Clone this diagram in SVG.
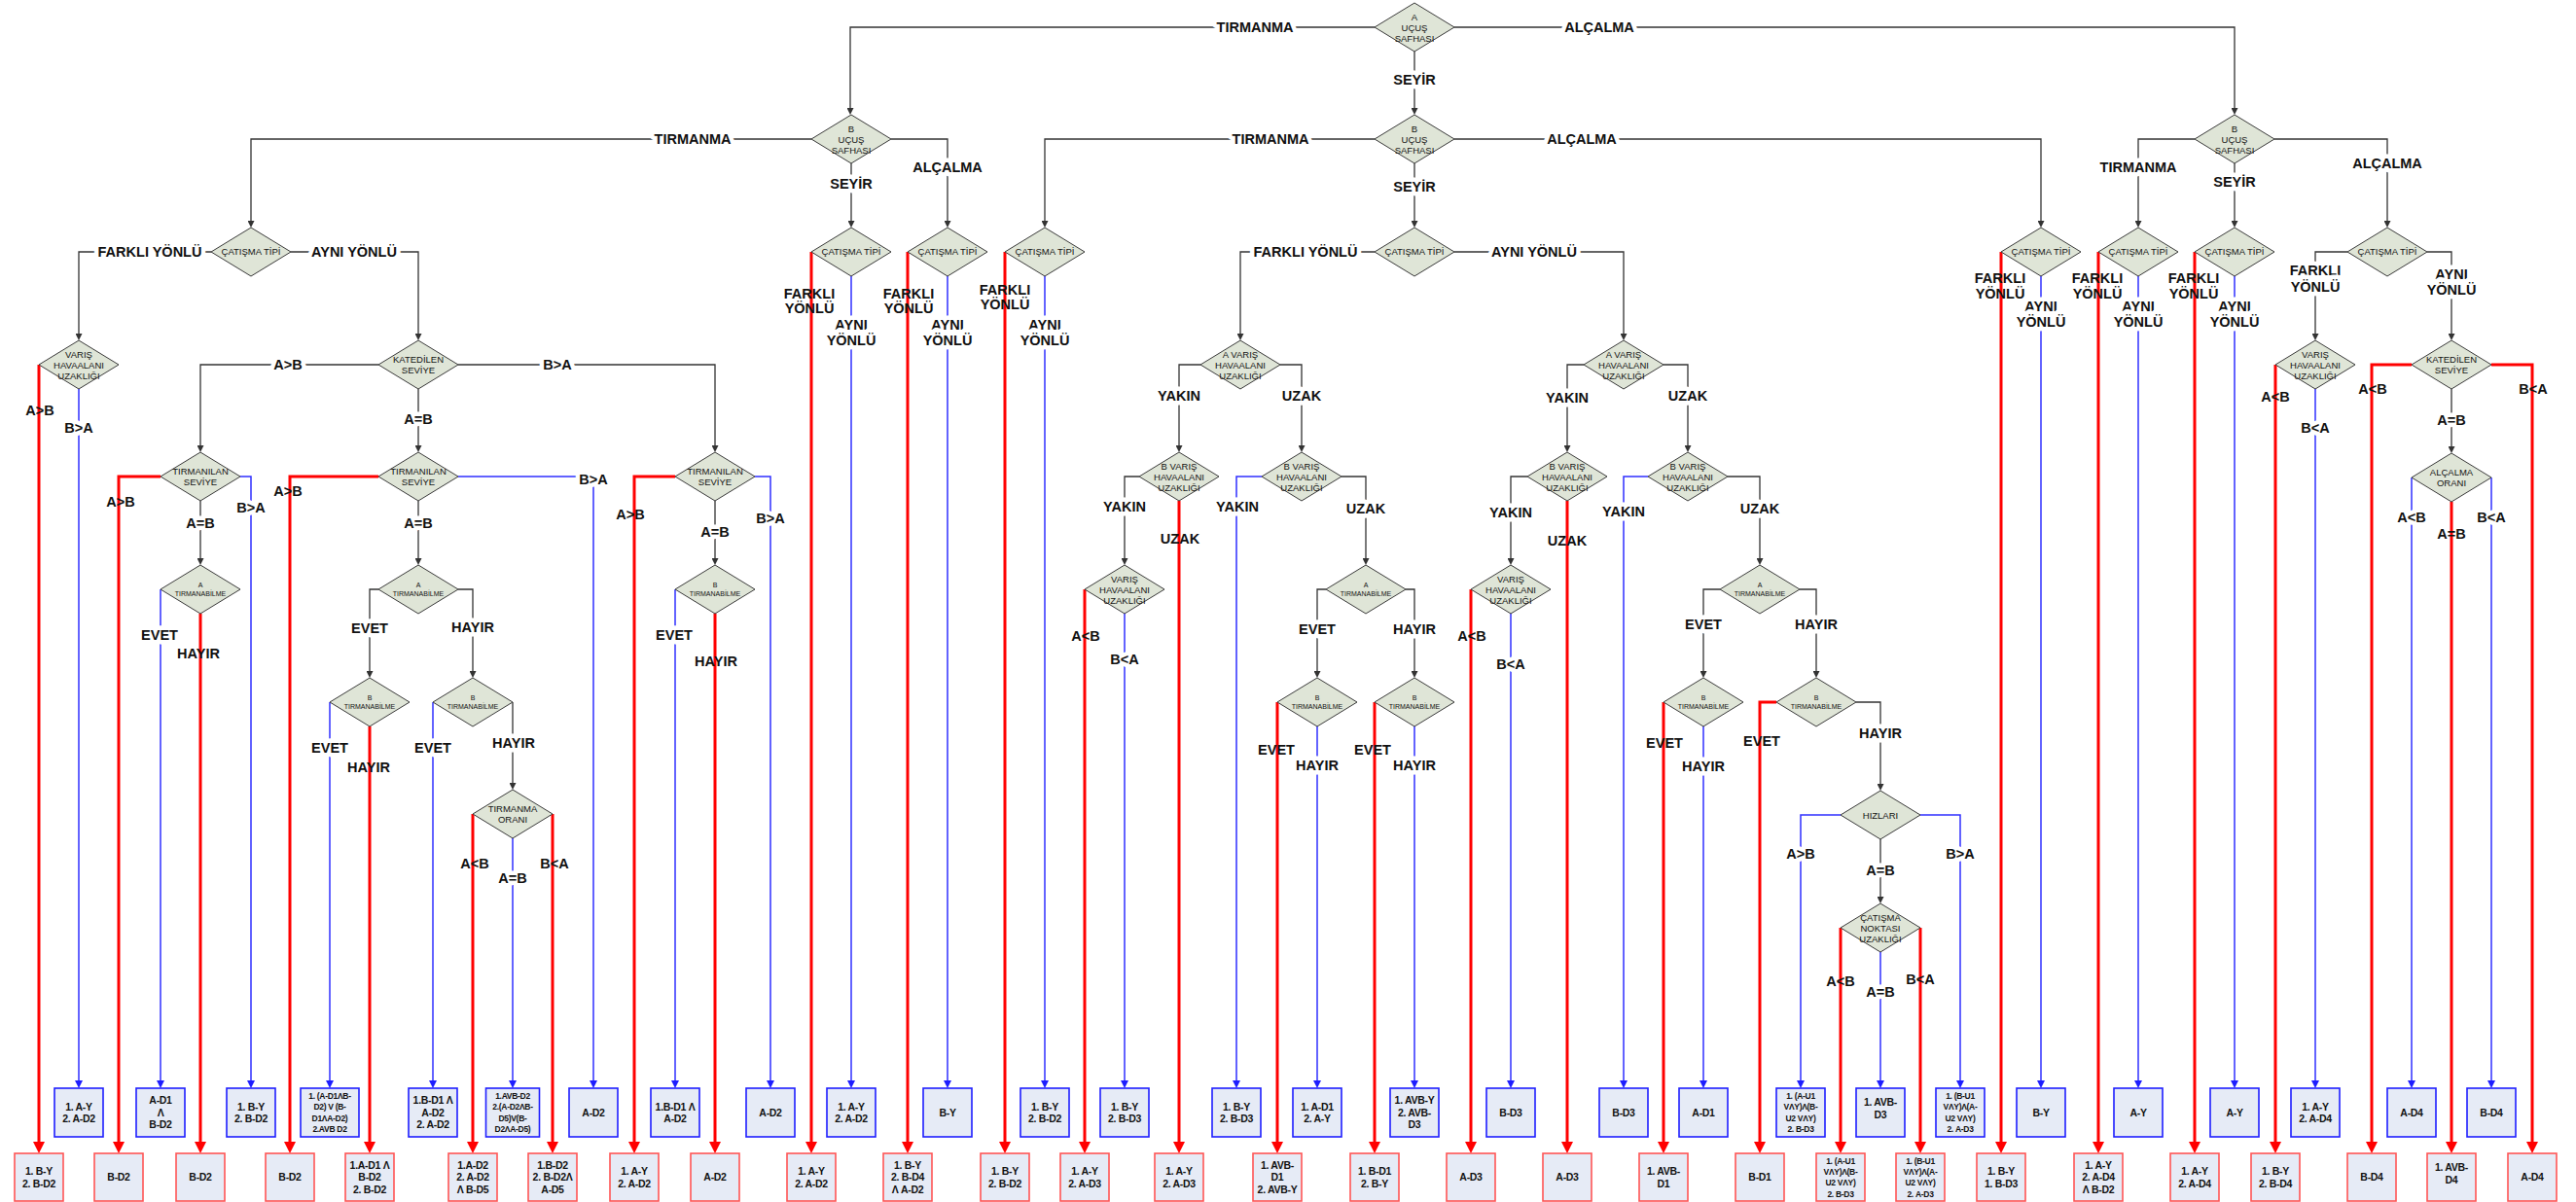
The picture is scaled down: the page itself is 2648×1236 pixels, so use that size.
<svg xmlns="http://www.w3.org/2000/svg" width="2648" height="1236" viewBox="0 0 2648 1236">
<defs>
<style>
.k{fill:none;stroke:#333;stroke-width:1.3;marker-end:url(#mk)}
.b{fill:none;stroke:#2f2fff;stroke-width:1.5;marker-end:url(#mb)}
.r{fill:none;stroke:#ff0000;stroke-width:3;marker-end:url(#mr)}
.d{fill:#dfe5d7;stroke:#3a3a3a;stroke-width:1}
.bb{fill:#e6ebf6;stroke:#1e1eff;stroke-width:1.6}
.rb{fill:#e6ebf6;stroke:#ff5555;stroke-width:1.6}
text{font-family:"Liberation Sans",Arial,sans-serif;text-anchor:middle;fill:#111}
.l{font-size:14.5px;font-weight:bold}
.h{stroke:#fff;stroke-width:9;stroke-linejoin:round;paint-order:stroke}
.t{font-size:9.5px}
.s{font-size:7px}
.x{font-size:10.5px;font-weight:bold;letter-spacing:-0.3px}
.y{font-size:8.5px;font-weight:bold;letter-spacing:-0.3px}
</style>
<path id="dm" d="M0,-25L41,0L0,25L-41,0Z"/>
<marker id="mk" markerUnits="userSpaceOnUse" markerWidth="7" markerHeight="7" refX="0" refY="3.5" orient="auto"><path d="M0,0L7,3.5L0,7Z" fill="#333"/></marker>
<marker id="mb" markerUnits="userSpaceOnUse" markerWidth="8" markerHeight="8" refX="0" refY="4" orient="auto"><path d="M0,0L8,4L0,8Z" fill="#1e1eff"/></marker>
<marker id="mr" markerUnits="userSpaceOnUse" markerWidth="12" markerHeight="12" refX="0" refY="6" orient="auto"><path d="M0,0L12,6L0,12Z" fill="#ff0000"/></marker>
</defs>
<rect width="2648" height="1236" fill="#fff"/>

<!-- connectors -->
<g id="connectors">
<!-- decision flow (black) -->
<path class="k" d="M1413,28H874V111"/>
<path class="k" d="M1495,28H2297V111"/>
<path class="k" d="M1454,53V111"/>
<path class="k" d="M834,143H258V227"/>
<path class="k" d="M875,168V227"/>
<path class="k" d="M916,143H974V227"/>
<path class="k" d="M1413,143H1074V227"/>
<path class="k" d="M1454,168V227"/>
<path class="k" d="M1495,143H2098V227"/>
<path class="k" d="M2256,143H2198V227"/>
<path class="k" d="M2297,168V227"/>
<path class="k" d="M2338,143H2454V227"/>
<path class="k" d="M217,259H81V343"/>
<path class="k" d="M299,259H430V343"/>
<path class="k" d="M389,375H206V458"/>
<path class="k" d="M471,375H735V458"/>
<path class="k" d="M430,400V458"/>
<path class="k" d="M206,515V574"/>
<path class="k" d="M430,515V574"/>
<path class="k" d="M735,515V574"/>
<path class="k" d="M389,606H380V690"/>
<path class="k" d="M471,606H486V690"/>
<path class="k" d="M527,722V805"/>
<path class="k" d="M1413,259H1275V343"/>
<path class="k" d="M1495,259H1669V343"/>
<path class="k" d="M1234,375H1212V458"/>
<path class="k" d="M1316,375H1338V458"/>
<path class="k" d="M1171,490H1156V574"/>
<path class="k" d="M1379,490H1404V574"/>
<path class="k" d="M1363,606H1354V690"/>
<path class="k" d="M1445,606H1454V690"/>
<path class="k" d="M1628,375H1611V458"/>
<path class="k" d="M1710,375H1735V458"/>
<path class="k" d="M1570,490H1553V574"/>
<path class="k" d="M1776,490H1809V574"/>
<path class="k" d="M1768,606H1751V690"/>
<path class="k" d="M1850,606H1867V690"/>
<path class="k" d="M1908,722H1933V806"/>
<path class="k" d="M1933,863V922"/>
<path class="k" d="M2413,259H2380V343"/>
<path class="k" d="M2495,259H2520V343"/>
<path class="k" d="M2520,400V459"/>
<!-- outcomes, upper row (blue) -->
<path class="b" d="M81,400V1111"/>
<path class="b" d="M247,490H258V1111"/>
<path class="b" d="M165,606V1111"/>
<path class="b" d="M339,722V1111"/>
<path class="b" d="M445,722V1111"/>
<path class="b" d="M527,862V1111"/>
<path class="b" d="M471,490H610V1111"/>
<path class="b" d="M694,606V1111"/>
<path class="b" d="M776,490H792V1111"/>
<path class="b" d="M875,284V1111"/>
<path class="b" d="M974,284V1111"/>
<path class="b" d="M1074,284V1111"/>
<path class="b" d="M1156,631V1111"/>
<path class="b" d="M1297,490H1271V1111"/>
<path class="b" d="M1354,747V1111"/>
<path class="b" d="M1454,747V1111"/>
<path class="b" d="M1553,631V1111"/>
<path class="b" d="M1694,490H1669V1111"/>
<path class="b" d="M1751,747V1111"/>
<path class="b" d="M1892,838H1851V1111"/>
<path class="b" d="M1974,838H2015V1111"/>
<path class="b" d="M1933,979V1111"/>
<path class="b" d="M2098,284V1111"/>
<path class="b" d="M2198,284V1111"/>
<path class="b" d="M2297,284V1111"/>
<path class="b" d="M2380,400V1111"/>
<path class="b" d="M2479,491V1111"/>
<path class="b" d="M2561,491V1111"/>
<!-- outcomes, lower row (red) -->
<path class="r" d="M40,375V1174"/>
<path class="r" d="M165,490H122V1174"/>
<path class="r" d="M206,631V1174"/>
<path class="r" d="M389,490H298V1174"/>
<path class="r" d="M380,747V1174"/>
<path class="r" d="M486,837V1174"/>
<path class="r" d="M568,837V1174"/>
<path class="r" d="M694,490H652V1174"/>
<path class="r" d="M735,631V1174"/>
<path class="r" d="M834,259V1174"/>
<path class="r" d="M933,259V1174"/>
<path class="r" d="M1033,259V1174"/>
<path class="r" d="M1115,606V1174"/>
<path class="r" d="M1212,515V1174"/>
<path class="r" d="M1313,722V1174"/>
<path class="r" d="M1413,722V1174"/>
<path class="r" d="M1512,606V1174"/>
<path class="r" d="M1611,515V1174"/>
<path class="r" d="M1710,722V1174"/>
<path class="r" d="M1826,722H1809V1174"/>
<path class="r" d="M1892,954V1174"/>
<path class="r" d="M1974,954V1174"/>
<path class="r" d="M2057,259V1174"/>
<path class="r" d="M2157,259V1174"/>
<path class="r" d="M2256,259V1174"/>
<path class="r" d="M2339,375V1174"/>
<path class="r" d="M2479,375H2438V1174"/>
<path class="r" d="M2561,375H2603V1174"/>
<path class="r" d="M2520,516V1174"/>
</g>

<!-- branch labels -->
<g id="labels" class="l">
<text class="h" x="1290" y="33">TIRMANMA</text>
<text class="h" x="1644" y="33">ALÇALMA</text>
<text class="h" x="1454" y="87">SEYİR</text>
<text class="h" x="712" y="148">TIRMANMA</text>
<text class="h" x="875" y="194">SEYİR</text>
<text class="h" x="974" y="177">ALÇALMA</text>
<text class="h" x="1306" y="148">TIRMANMA</text>
<text class="h" x="1454" y="197">SEYİR</text>
<text class="h" x="1626" y="148">ALÇALMA</text>
<text class="h" x="2198" y="177">TIRMANMA</text>
<text class="h" x="2297" y="192">SEYİR</text>
<text class="h" x="2454" y="173">ALÇALMA</text>

<text class="h" x="154" y="264">FARKLI YÖNLÜ</text>
<text class="h" x="364" y="264">AYNI YÖNLÜ</text>
<text x="832" y="307">FARKLI</text><text x="832" y="322">YÖNLÜ</text>
<text class="h" x="875" y="339">AYNI</text><text class="h" x="875" y="355">YÖNLÜ</text>
<text x="934" y="307">FARKLI</text><text x="934" y="322">YÖNLÜ</text>
<text class="h" x="974" y="339">AYNI</text><text class="h" x="974" y="355">YÖNLÜ</text>
<text x="1033" y="303">FARKLI</text><text x="1033" y="318">YÖNLÜ</text>
<text class="h" x="1074" y="339">AYNI</text><text class="h" x="1074" y="355">YÖNLÜ</text>
<text class="h" x="1342" y="264">FARKLI YÖNLÜ</text>
<text class="h" x="1577" y="264">AYNI YÖNLÜ</text>
<text x="2056" y="291">FARKLI</text><text x="2056" y="307">YÖNLÜ</text>
<text class="h" x="2098" y="320">AYNI</text><text class="h" x="2098" y="336">YÖNLÜ</text>
<text x="2156" y="291">FARKLI</text><text x="2156" y="307">YÖNLÜ</text>
<text class="h" x="2198" y="320">AYNI</text><text class="h" x="2198" y="336">YÖNLÜ</text>
<text x="2255" y="291">FARKLI</text><text x="2255" y="307">YÖNLÜ</text>
<text class="h" x="2297" y="320">AYNI</text><text class="h" x="2297" y="336">YÖNLÜ</text>
<text class="h" x="2380" y="283">FARKLI</text><text class="h" x="2380" y="300">YÖNLÜ</text>
<text class="h" x="2520" y="287">AYNI</text><text class="h" x="2520" y="303">YÖNLÜ</text>

<text x="41" y="427">A&gt;B</text>
<text class="h" x="81" y="445">B&gt;A</text>
<text class="h" x="296" y="380">A&gt;B</text>
<text class="h" x="573" y="380">B&gt;A</text>
<text class="h" x="430" y="436">A=B</text>
<text x="124" y="521">A&gt;B</text>
<text class="h" x="258" y="527">B&gt;A</text>
<text class="h" x="206" y="543">A=B</text>
<text class="h" x="164" y="658">EVET</text>
<text x="204" y="677">HAYIR</text>
<text x="296" y="510">A&gt;B</text>
<text class="h" x="610" y="498">B&gt;A</text>
<text class="h" x="430" y="543">A=B</text>
<text class="h" x="380" y="651">EVET</text>
<text class="h" x="486" y="650">HAYIR</text>
<text class="h" x="339" y="774">EVET</text>
<text x="379" y="794">HAYIR</text>
<text class="h" x="445" y="774">EVET</text>
<text class="h" x="528" y="769">HAYIR</text>
<text x="488" y="893">A&lt;B</text>
<text class="h" x="527" y="908">A=B</text>
<text x="570" y="893">B&lt;A</text>
<text x="648" y="534">A&gt;B</text>
<text class="h" x="792" y="538">B&gt;A</text>
<text class="h" x="735" y="552">A=B</text>
<text class="h" x="693" y="658">EVET</text>
<text x="736" y="685">HAYIR</text>

<text class="h" x="1212" y="412">YAKIN</text>
<text class="h" x="1338" y="412">UZAK</text>
<text class="h" x="1156" y="526">YAKIN</text>
<text x="1213" y="559">UZAK</text>
<text x="1116" y="659">A&lt;B</text>
<text class="h" x="1156" y="683">B&lt;A</text>
<text class="h" x="1272" y="526">YAKIN</text>
<text class="h" x="1404" y="528">UZAK</text>
<text class="h" x="1354" y="652">EVET</text>
<text class="h" x="1454" y="652">HAYIR</text>
<text x="1312" y="776">EVET</text>
<text class="h" x="1354" y="792">HAYIR</text>
<text x="1411" y="776">EVET</text>
<text class="h" x="1454" y="792">HAYIR</text>
<text class="h" x="1611" y="414">YAKIN</text>
<text class="h" x="1735" y="412">UZAK</text>
<text class="h" x="1553" y="532">YAKIN</text>
<text x="1611" y="561">UZAK</text>
<text x="1513" y="659">A&lt;B</text>
<text class="h" x="1553" y="688">B&lt;A</text>
<text class="h" x="1669" y="531">YAKIN</text>
<text class="h" x="1809" y="528">UZAK</text>
<text class="h" x="1751" y="647">EVET</text>
<text class="h" x="1867" y="647">HAYIR</text>
<text x="1711" y="769">EVET</text>
<text class="h" x="1751" y="793">HAYIR</text>
<text x="1811" y="767">EVET</text>
<text class="h" x="1933" y="759">HAYIR</text>
<text class="h" x="1851" y="883">A&gt;B</text>
<text class="h" x="2015" y="883">B&gt;A</text>
<text class="h" x="1933" y="900">A=B</text>
<text x="1892" y="1014">A&lt;B</text>
<text class="h" x="1933" y="1025">A=B</text>
<text x="1974" y="1012">B&lt;A</text>

<text x="2339" y="413">A&lt;B</text>
<text class="h" x="2380" y="445">B&lt;A</text>
<text x="2439" y="405">A&lt;B</text>
<text x="2604" y="405">B&lt;A</text>
<text class="h" x="2520" y="437">A=B</text>
<text class="h" x="2479" y="537">A&lt;B</text>
<text x="2520" y="554">A=B</text>
<text class="h" x="2561" y="537">B&lt;A</text>
</g>

<!-- decision nodes -->
<g id="n-a-ucus"><use href="#dm" class="d" x="1454" y="28"/><text class="t"><tspan x="1454" y="20.5">A</tspan><tspan x="1454" y="31.5">UÇUŞ</tspan><tspan x="1454" y="42.5">SAFHASI</tspan></text></g>
<g id="n-b-ucus-1"><use href="#dm" class="d" x="875" y="143"/><text class="t"><tspan x="875" y="135.5">B</tspan><tspan x="875" y="146.5">UÇUŞ</tspan><tspan x="875" y="157.5">SAFHASI</tspan></text></g>
<g id="n-b-ucus-2"><use href="#dm" class="d" x="1454" y="143"/><text class="t"><tspan x="1454" y="135.5">B</tspan><tspan x="1454" y="146.5">UÇUŞ</tspan><tspan x="1454" y="157.5">SAFHASI</tspan></text></g>
<g id="n-b-ucus-3"><use href="#dm" class="d" x="2297" y="143"/><text class="t"><tspan x="2297" y="135.5">B</tspan><tspan x="2297" y="146.5">UÇUŞ</tspan><tspan x="2297" y="157.5">SAFHASI</tspan></text></g>

<g id="n-catisma-1"><use href="#dm" class="d" x="258" y="259"/><text class="t" x="258" y="261.5">ÇATIŞMA TİPİ</text></g>
<g id="n-catisma-2"><use href="#dm" class="d" x="875" y="259"/><text class="t" x="875" y="261.5">ÇATIŞMA TİPİ</text></g>
<g id="n-catisma-3"><use href="#dm" class="d" x="974" y="259"/><text class="t" x="974" y="261.5">ÇATIŞMA TİPİ</text></g>
<g id="n-catisma-4"><use href="#dm" class="d" x="1074" y="259"/><text class="t" x="1074" y="261.5">ÇATIŞMA TİPİ</text></g>
<g id="n-catisma-5"><use href="#dm" class="d" x="1454" y="259"/><text class="t" x="1454" y="261.5">ÇATIŞMA TİPİ</text></g>
<g id="n-catisma-6"><use href="#dm" class="d" x="2098" y="259"/><text class="t" x="2098" y="261.5">ÇATIŞMA TİPİ</text></g>
<g id="n-catisma-7"><use href="#dm" class="d" x="2198" y="259"/><text class="t" x="2198" y="261.5">ÇATIŞMA TİPİ</text></g>
<g id="n-catisma-8"><use href="#dm" class="d" x="2297" y="259"/><text class="t" x="2297" y="261.5">ÇATIŞMA TİPİ</text></g>
<g id="n-catisma-9"><use href="#dm" class="d" x="2454" y="259"/><text class="t" x="2454" y="261.5">ÇATIŞMA TİPİ</text></g>

<g id="n-varis-1"><use href="#dm" class="d" x="81" y="375"/><text class="t"><tspan x="81" y="367.5">VARIŞ</tspan><tspan x="81" y="378.5">HAVAALANI</tspan><tspan x="81" y="389.5">UZAKLIĞI</tspan></text></g>
<g id="n-katedilen-1"><use href="#dm" class="d" x="430" y="375"/><text class="t"><tspan x="430" y="373">KATEDİLEN</tspan><tspan x="430" y="384">SEVİYE</tspan></text></g>
<g id="n-tirmanilan-1"><use href="#dm" class="d" x="206" y="490"/><text class="t"><tspan x="206" y="488">TIRMANILAN</tspan><tspan x="206" y="499">SEVİYE</tspan></text></g>
<g id="n-tirmanilan-2"><use href="#dm" class="d" x="430" y="490"/><text class="t"><tspan x="430" y="488">TIRMANILAN</tspan><tspan x="430" y="499">SEVİYE</tspan></text></g>
<g id="n-tirmanilan-3"><use href="#dm" class="d" x="735" y="490"/><text class="t"><tspan x="735" y="488">TIRMANILAN</tspan><tspan x="735" y="499">SEVİYE</tspan></text></g>
<g id="n-a-tirman-1"><use href="#dm" class="d" x="206" y="606"/><text class="s"><tspan x="206" y="603.5">A</tspan><tspan x="206" y="612.5">TIRMANABİLME</tspan></text></g>
<g id="n-a-tirman-2"><use href="#dm" class="d" x="430" y="606"/><text class="s"><tspan x="430" y="603.5">A</tspan><tspan x="430" y="612.5">TIRMANABİLME</tspan></text></g>
<g id="n-b-tirman-1"><use href="#dm" class="d" x="380" y="722"/><text class="s"><tspan x="380" y="719.5">B</tspan><tspan x="380" y="728.5">TIRMANABİLME</tspan></text></g>
<g id="n-b-tirman-2"><use href="#dm" class="d" x="486" y="722"/><text class="s"><tspan x="486" y="719.5">B</tspan><tspan x="486" y="728.5">TIRMANABİLME</tspan></text></g>
<g id="n-b-tirman-3"><use href="#dm" class="d" x="735" y="606"/><text class="s"><tspan x="735" y="603.5">B</tspan><tspan x="735" y="612.5">TIRMANABİLME</tspan></text></g>
<g id="n-tirmanma-orani"><use href="#dm" class="d" x="527" y="837"/><text class="t"><tspan x="527" y="835">TIRMANMA</tspan><tspan x="527" y="846">ORANI</tspan></text></g>

<g id="n-a-varis-1"><use href="#dm" class="d" x="1275" y="375"/><text class="t"><tspan x="1275" y="367.5">A VARIŞ</tspan><tspan x="1275" y="378.5">HAVAALANI</tspan><tspan x="1275" y="389.5">UZAKLIĞI</tspan></text></g>
<g id="n-b-varis-1"><use href="#dm" class="d" x="1212" y="490"/><text class="t"><tspan x="1212" y="482.5">B VARIŞ</tspan><tspan x="1212" y="493.5">HAVAALANI</tspan><tspan x="1212" y="504.5">UZAKLIĞI</tspan></text></g>
<g id="n-varis-2"><use href="#dm" class="d" x="1156" y="606"/><text class="t"><tspan x="1156" y="598.5">VARIŞ</tspan><tspan x="1156" y="609.5">HAVAALANI</tspan><tspan x="1156" y="620.5">UZAKLIĞI</tspan></text></g>
<g id="n-b-varis-2"><use href="#dm" class="d" x="1338" y="490"/><text class="t"><tspan x="1338" y="482.5">B VARIŞ</tspan><tspan x="1338" y="493.5">HAVAALANI</tspan><tspan x="1338" y="504.5">UZAKLIĞI</tspan></text></g>
<g id="n-a-tirman-3"><use href="#dm" class="d" x="1404" y="606"/><text class="s"><tspan x="1404" y="603.5">A</tspan><tspan x="1404" y="612.5">TIRMANABİLME</tspan></text></g>
<g id="n-b-tirman-4"><use href="#dm" class="d" x="1354" y="722"/><text class="s"><tspan x="1354" y="719.5">B</tspan><tspan x="1354" y="728.5">TIRMANABİLME</tspan></text></g>
<g id="n-b-tirman-5"><use href="#dm" class="d" x="1454" y="722"/><text class="s"><tspan x="1454" y="719.5">B</tspan><tspan x="1454" y="728.5">TIRMANABİLME</tspan></text></g>
<g id="n-a-varis-2"><use href="#dm" class="d" x="1669" y="375"/><text class="t"><tspan x="1669" y="367.5">A VARIŞ</tspan><tspan x="1669" y="378.5">HAVAALANI</tspan><tspan x="1669" y="389.5">UZAKLIĞI</tspan></text></g>
<g id="n-b-varis-3"><use href="#dm" class="d" x="1611" y="490"/><text class="t"><tspan x="1611" y="482.5">B VARIŞ</tspan><tspan x="1611" y="493.5">HAVAALANI</tspan><tspan x="1611" y="504.5">UZAKLIĞI</tspan></text></g>
<g id="n-varis-3"><use href="#dm" class="d" x="1553" y="606"/><text class="t"><tspan x="1553" y="598.5">VARIŞ</tspan><tspan x="1553" y="609.5">HAVAALANI</tspan><tspan x="1553" y="620.5">UZAKLIĞI</tspan></text></g>
<g id="n-b-varis-4"><use href="#dm" class="d" x="1735" y="490"/><text class="t"><tspan x="1735" y="482.5">B VARIŞ</tspan><tspan x="1735" y="493.5">HAVAALANI</tspan><tspan x="1735" y="504.5">UZAKLIĞI</tspan></text></g>
<g id="n-a-tirman-4"><use href="#dm" class="d" x="1809" y="606"/><text class="s"><tspan x="1809" y="603.5">A</tspan><tspan x="1809" y="612.5">TIRMANABİLME</tspan></text></g>
<g id="n-b-tirman-6"><use href="#dm" class="d" x="1751" y="722"/><text class="s"><tspan x="1751" y="719.5">B</tspan><tspan x="1751" y="728.5">TIRMANABİLME</tspan></text></g>
<g id="n-b-tirman-7"><use href="#dm" class="d" x="1867" y="722"/><text class="s"><tspan x="1867" y="719.5">B</tspan><tspan x="1867" y="728.5">TIRMANABİLME</tspan></text></g>
<g id="n-hizlari"><use href="#dm" class="d" x="1933" y="838"/><text class="t" x="1933" y="841.5">HIZLARI</text></g>
<g id="n-catisma-noktasi"><use href="#dm" class="d" x="1933" y="954"/><text class="t"><tspan x="1933" y="946.5">ÇATIŞMA</tspan><tspan x="1933" y="957.5">NOKTASI</tspan><tspan x="1933" y="968.5">UZAKLIĞI</tspan></text></g>

<g id="n-varis-4"><use href="#dm" class="d" x="2380" y="375"/><text class="t"><tspan x="2380" y="367.5">VARIŞ</tspan><tspan x="2380" y="378.5">HAVAALANI</tspan><tspan x="2380" y="389.5">UZAKLIĞI</tspan></text></g>
<g id="n-katedilen-2"><use href="#dm" class="d" x="2520" y="375"/><text class="t"><tspan x="2520" y="373">KATEDİLEN</tspan><tspan x="2520" y="384">SEVİYE</tspan></text></g>
<g id="n-alcalma-orani"><use href="#dm" class="d" x="2520" y="491"/><text class="t"><tspan x="2520" y="489">ALÇALMA</tspan><tspan x="2520" y="500">ORANI</tspan></text></g>

<!-- outcome boxes, upper row -->
<g id="o-b1"><rect class="bb" x="56" y="1119" width="50" height="50"/><text class="x"><tspan x="81" y="1141.5">1. A-Y</tspan><tspan x="81" y="1154">2. A-D2</tspan></text></g>
<g id="o-b2"><rect class="bb" x="140" y="1119" width="50" height="50"/><text class="x"><tspan x="165" y="1135.3">A-D1</tspan><tspan x="165" y="1147.8">Λ</tspan><tspan x="165" y="1160.3">B-D2</tspan></text></g>
<g id="o-b3"><rect class="bb" x="233" y="1119" width="50" height="50"/><text class="x"><tspan x="258" y="1141.5">1. B-Y</tspan><tspan x="258" y="1154">2. B-D2</tspan></text></g>
<g id="o-b4"><rect class="bb" x="309" y="1119" width="60" height="50"/><text class="y"><tspan x="339" y="1130">1. (A-D1ΛB-</tspan><tspan x="339" y="1141.3">D2) V (B-</tspan><tspan x="339" y="1152.6">D1ΛA-D2)</tspan><tspan x="339" y="1164">2.AVB D2</tspan></text></g>
<g id="o-b5"><rect class="bb" x="420" y="1119" width="50" height="50"/><text class="x"><tspan x="445" y="1135.3">1.B-D1 Λ</tspan><tspan x="445" y="1147.8">A-D2</tspan><tspan x="445" y="1160.3">2. A-D2</tspan></text></g>
<g id="o-b6"><rect class="bb" x="499.5" y="1119" width="55" height="50"/><text class="y"><tspan x="527" y="1130">1.AVB-D2</tspan><tspan x="527" y="1141.3">2.(A-D2ΛB-</tspan><tspan x="527" y="1152.6">D5)V(B-</tspan><tspan x="527" y="1164">D2ΛA-D5)</tspan></text></g>
<g id="o-b7"><rect class="bb" x="585" y="1119" width="50" height="50"/><text class="x" x="610" y="1147.8">A-D2</text></g>
<g id="o-b8"><rect class="bb" x="669" y="1119" width="50" height="50"/><text class="x"><tspan x="694" y="1141.5">1.B-D1 Λ</tspan><tspan x="694" y="1154">A-D2</tspan></text></g>
<g id="o-b9"><rect class="bb" x="767" y="1119" width="50" height="50"/><text class="x" x="792" y="1147.8">A-D2</text></g>
<g id="o-b10"><rect class="bb" x="850" y="1119" width="50" height="50"/><text class="x"><tspan x="875" y="1141.5">1. A-Y</tspan><tspan x="875" y="1154">2. A-D2</tspan></text></g>
<g id="o-b11"><rect class="bb" x="949" y="1119" width="50" height="50"/><text class="x" x="974" y="1147.8">B-Y</text></g>
<g id="o-b12"><rect class="bb" x="1049" y="1119" width="50" height="50"/><text class="x"><tspan x="1074" y="1141.5">1. B-Y</tspan><tspan x="1074" y="1154">2. B-D2</tspan></text></g>
<g id="o-b13"><rect class="bb" x="1131" y="1119" width="50" height="50"/><text class="x"><tspan x="1156" y="1141.5">1. B-Y</tspan><tspan x="1156" y="1154">2. B-D3</tspan></text></g>
<g id="o-b14"><rect class="bb" x="1246" y="1119" width="50" height="50"/><text class="x"><tspan x="1271" y="1141.5">1. B-Y</tspan><tspan x="1271" y="1154">2. B-D3</tspan></text></g>
<g id="o-b15"><rect class="bb" x="1329" y="1119" width="50" height="50"/><text class="x"><tspan x="1354" y="1141.5">1. A-D1</tspan><tspan x="1354" y="1154">2. A-Y</tspan></text></g>
<g id="o-b16"><rect class="bb" x="1429" y="1119" width="50" height="50"/><text class="x"><tspan x="1454" y="1135.3">1. AVB-Y</tspan><tspan x="1454" y="1147.8">2. AVB-</tspan><tspan x="1454" y="1160.3">D3</tspan></text></g>
<g id="o-b17"><rect class="bb" x="1528" y="1119" width="50" height="50"/><text class="x" x="1553" y="1147.8">B-D3</text></g>
<g id="o-b18"><rect class="bb" x="1644" y="1119" width="50" height="50"/><text class="x" x="1669" y="1147.8">B-D3</text></g>
<g id="o-b19"><rect class="bb" x="1726" y="1119" width="50" height="50"/><text class="x" x="1751" y="1147.8">A-D1</text></g>
<g id="o-b20"><rect class="bb" x="1826" y="1119" width="50" height="50"/><text class="y"><tspan x="1851" y="1130">1. (A-U1</tspan><tspan x="1851" y="1141.3">VΛY)Λ(B-</tspan><tspan x="1851" y="1152.6">U2 VΛY)</tspan><tspan x="1851" y="1164">2. B-D3</tspan></text></g>
<g id="o-b21"><rect class="bb" x="1908" y="1119" width="50" height="50"/><text class="x"><tspan x="1933" y="1137">1. AVB-</tspan><tspan x="1933" y="1150">D3</tspan></text></g>
<g id="o-b22"><rect class="bb" x="1990" y="1119" width="50" height="50"/><text class="y"><tspan x="2015" y="1130">1. (B-U1</tspan><tspan x="2015" y="1141.3">VΛY)Λ(A-</tspan><tspan x="2015" y="1152.6">U2 VΛY)</tspan><tspan x="2015" y="1164">2. A-D3</tspan></text></g>
<g id="o-b23"><rect class="bb" x="2073" y="1119" width="50" height="50"/><text class="x" x="2098" y="1147.8">B-Y</text></g>
<g id="o-b24"><rect class="bb" x="2173" y="1119" width="50" height="50"/><text class="x" x="2198" y="1147.8">A-Y</text></g>
<g id="o-b25"><rect class="bb" x="2272" y="1119" width="50" height="50"/><text class="x" x="2297" y="1147.8">A-Y</text></g>
<g id="o-b26"><rect class="bb" x="2355" y="1119" width="50" height="50"/><text class="x"><tspan x="2380" y="1141.5">1. A-Y</tspan><tspan x="2380" y="1154">2. A-D4</tspan></text></g>
<g id="o-b27"><rect class="bb" x="2454" y="1119" width="50" height="50"/><text class="x" x="2479" y="1147.8">A-D4</text></g>
<g id="o-b28"><rect class="bb" x="2536" y="1119" width="50" height="50"/><text class="x" x="2561" y="1147.8">B-D4</text></g>

<!-- outcome boxes, lower row -->
<g id="o-r1"><rect class="rb" x="15" y="1186" width="50" height="49"/><text class="x"><tspan x="40" y="1208">1. B-Y</tspan><tspan x="40" y="1220.5">2. B-D2</tspan></text></g>
<g id="o-r2"><rect class="rb" x="97" y="1186" width="50" height="49"/><text class="x" x="122" y="1214.3">B-D2</text></g>
<g id="o-r3"><rect class="rb" x="181" y="1186" width="50" height="49"/><text class="x" x="206" y="1214.3">B-D2</text></g>
<g id="o-r4"><rect class="rb" x="273" y="1186" width="50" height="49"/><text class="x" x="298" y="1214.3">B-D2</text></g>
<g id="o-r5"><rect class="rb" x="355" y="1186" width="50" height="49"/><text class="x"><tspan x="380" y="1201.8">1.A-D1 Λ</tspan><tspan x="380" y="1214.3">B-D2</tspan><tspan x="380" y="1226.8">2. B-D2</tspan></text></g>
<g id="o-r6"><rect class="rb" x="461" y="1186" width="50" height="49"/><text class="x"><tspan x="486" y="1201.8">1.A-D2</tspan><tspan x="486" y="1214.3">2. A-D2</tspan><tspan x="486" y="1226.8">Λ B-D5</tspan></text></g>
<g id="o-r7"><rect class="rb" x="543" y="1186" width="50" height="49"/><text class="x"><tspan x="568" y="1201.8">1.B-D2</tspan><tspan x="568" y="1214.3">2. B-D2Λ</tspan><tspan x="568" y="1226.8">A-D5</tspan></text></g>
<g id="o-r8"><rect class="rb" x="627" y="1186" width="50" height="49"/><text class="x"><tspan x="652" y="1208">1. A-Y</tspan><tspan x="652" y="1220.5">2. A-D2</tspan></text></g>
<g id="o-r9"><rect class="rb" x="710" y="1186" width="50" height="49"/><text class="x" x="735" y="1214.3">A-D2</text></g>
<g id="o-r10"><rect class="rb" x="809" y="1186" width="50" height="49"/><text class="x"><tspan x="834" y="1208">1. A-Y</tspan><tspan x="834" y="1220.5">2. A-D2</tspan></text></g>
<g id="o-r11"><rect class="rb" x="908" y="1186" width="50" height="49"/><text class="x"><tspan x="933" y="1201.8">1. B-Y</tspan><tspan x="933" y="1214.3">2. B-D4</tspan><tspan x="933" y="1226.8">Λ A-D2</tspan></text></g>
<g id="o-r12"><rect class="rb" x="1008" y="1186" width="50" height="49"/><text class="x"><tspan x="1033" y="1208">1. B-Y</tspan><tspan x="1033" y="1220.5">2. B-D2</tspan></text></g>
<g id="o-r13"><rect class="rb" x="1090" y="1186" width="50" height="49"/><text class="x"><tspan x="1115" y="1208">1. A-Y</tspan><tspan x="1115" y="1220.5">2. A-D3</tspan></text></g>
<g id="o-r14"><rect class="rb" x="1187" y="1186" width="50" height="49"/><text class="x"><tspan x="1212" y="1208">1. A-Y</tspan><tspan x="1212" y="1220.5">2. A-D3</tspan></text></g>
<g id="o-r15"><rect class="rb" x="1288" y="1186" width="50" height="49"/><text class="x"><tspan x="1313" y="1201.8">1. AVB-</tspan><tspan x="1313" y="1214.3">D1</tspan><tspan x="1313" y="1226.8">2. AVB-Y</tspan></text></g>
<g id="o-r16"><rect class="rb" x="1388" y="1186" width="50" height="49"/><text class="x"><tspan x="1413" y="1208">1. B-D1</tspan><tspan x="1413" y="1220.5">2. B-Y</tspan></text></g>
<g id="o-r17"><rect class="rb" x="1487" y="1186" width="50" height="49"/><text class="x" x="1512" y="1214.3">A-D3</text></g>
<g id="o-r18"><rect class="rb" x="1586" y="1186" width="50" height="49"/><text class="x" x="1611" y="1214.3">A-D3</text></g>
<g id="o-r19"><rect class="rb" x="1685" y="1186" width="50" height="49"/><text class="x"><tspan x="1710" y="1208">1. AVB-</tspan><tspan x="1710" y="1220.5">D1</tspan></text></g>
<g id="o-r20"><rect class="rb" x="1784" y="1186" width="50" height="49"/><text class="x" x="1809" y="1214.3">B-D1</text></g>
<g id="o-r21"><rect class="rb" x="1867" y="1186" width="50" height="49"/><text class="y"><tspan x="1892" y="1196.5">1. (A-U1</tspan><tspan x="1892" y="1207.8">VΛY)Λ(B-</tspan><tspan x="1892" y="1219.1">U2 VΛY)</tspan><tspan x="1892" y="1230.5">2. B-D3</tspan></text></g>
<g id="o-r22"><rect class="rb" x="1949" y="1186" width="50" height="49"/><text class="y"><tspan x="1974" y="1196.5">1. (B-U1</tspan><tspan x="1974" y="1207.8">VΛY)Λ(A-</tspan><tspan x="1974" y="1219.1">U2 VΛY)</tspan><tspan x="1974" y="1230.5">2. A-D3</tspan></text></g>
<g id="o-r23"><rect class="rb" x="2032" y="1186" width="50" height="49"/><text class="x"><tspan x="2057" y="1208">1. B-Y</tspan><tspan x="2057" y="1220.5">1. B-D3</tspan></text></g>
<g id="o-r24"><rect class="rb" x="2132" y="1186" width="50" height="49"/><text class="x"><tspan x="2157" y="1201.8">1. A-Y</tspan><tspan x="2157" y="1214.3">2. A-D4</tspan><tspan x="2157" y="1226.8">Λ B-D2</tspan></text></g>
<g id="o-r25"><rect class="rb" x="2231" y="1186" width="50" height="49"/><text class="x"><tspan x="2256" y="1208">1. A-Y</tspan><tspan x="2256" y="1220.5">2. A-D4</tspan></text></g>
<g id="o-r26"><rect class="rb" x="2314" y="1186" width="50" height="49"/><text class="x"><tspan x="2339" y="1208">1. B-Y</tspan><tspan x="2339" y="1220.5">2. B-D4</tspan></text></g>
<g id="o-r27"><rect class="rb" x="2413" y="1186" width="50" height="49"/><text class="x" x="2438" y="1214.3">B-D4</text></g>
<g id="o-r28"><rect class="rb" x="2495" y="1186" width="50" height="49"/><text class="x"><tspan x="2520" y="1204">1. AVB-</tspan><tspan x="2520" y="1216.5">D4</tspan></text></g>
<g id="o-r29"><rect class="rb" x="2578" y="1186" width="50" height="49"/><text class="x" x="2603" y="1214.3">A-D4</text></g>
</svg>
